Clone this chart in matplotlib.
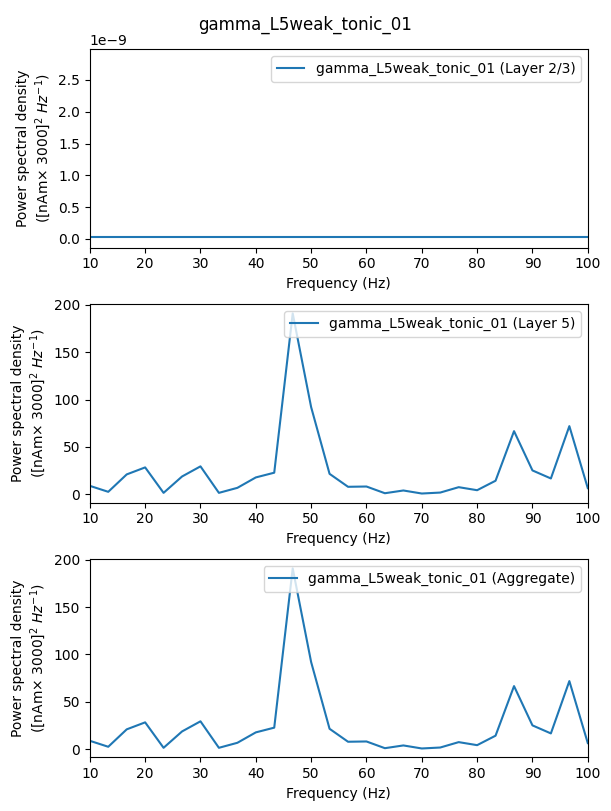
import numpy as np
import matplotlib
matplotlib.use('Agg')
import matplotlib.pyplot as plt

# gamma_L5weak_tonic_01 PSD
title = 'gamma_L5weak_tonic_01'

freqs = [10.0, 13.33, 16.67, 20.0, 23.33, 26.67, 30.0, 33.33, 36.67, 40.0,
         43.33, 46.67, 50.0, 53.33, 56.67, 60.0, 63.33, 66.67, 70.0, 73.33,
         76.67, 80.0, 83.33, 86.67, 90.0, 93.33, 96.67, 100.0]

psd_l23 = [2.7e-11] * len(freqs)

psd_l5 = [8.8, 2.5, 20.9, 28.3, 1.4, 18.7, 29.4, 1.4, 6.7, 17.7,
          22.7, 191.0, 92.0, 21.5, 7.8, 8.1, 1.0, 3.9, 0.7, 1.7,
          7.4, 4.2, 14.2, 66.6, 25.1, 16.6, 71.9, 6.4]

psd_agg = list(np.array(psd_l5) + np.array(psd_l23))

panels = [('Layer 2/3', psd_l23), ('Layer 5', psd_l5), ('Aggregate', psd_agg)]

ylabel = 'Power spectral density\n([nAm$\\times$ 3000]$^2$ $Hz^{-1}$)'

fig, axes = plt.subplots(3, 1, figsize=(6.11, 8.11), dpi=100)
fig.subplots_adjust(left=0.147, right=0.962, top=0.939, bottom=0.066, hspace=0.287)
fig.suptitle(title)

for ax, (name, vals) in zip(axes, panels):
    ax.plot(freqs, vals, color='C0', label='%s (%s)' % (title, name))
    ax.set_xlim(10, 100)
    ax.set_xlabel('Frequency (Hz)')
    ax.set_ylabel(ylabel)
    ax.legend(loc='upper right')

# top panel autoscaled on data outside the shown band in the original
axes[0].set_ylim(-0.135e-9, 2.98e-9)

fig.savefig('out.png')
